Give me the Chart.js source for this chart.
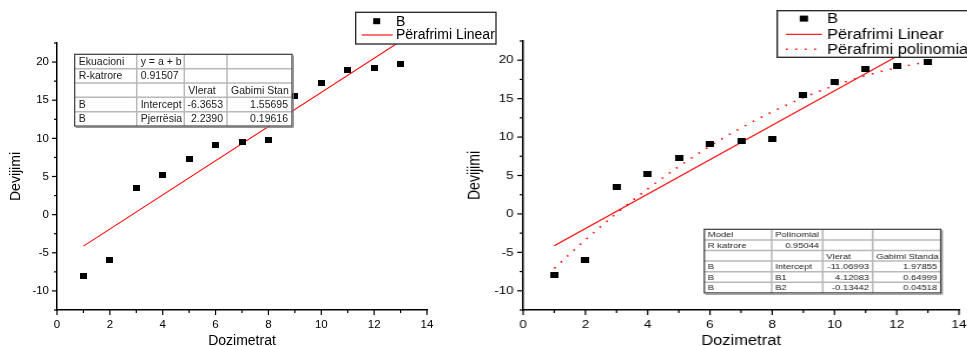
<!DOCTYPE html>
<html>
<head>
<meta charset="utf-8">
<script src="https://cdn.jsdelivr.net/npm/chart.js@4.4.1/dist/chart.umd.min.js"></script>
<style>
html,body{margin:0;padding:0;background:#fff;width:967px;height:346px;overflow:hidden;position:relative;}
#c1{position:absolute;left:0;top:0;}
#c2{position:absolute;left:456px;top:0;transform-origin:0 0;transform:scaleX(1.178);}
</style>
</head>
<body>
<canvas id="c1" width="500" height="346"></canvas>
<canvas id="c2" width="450" height="346"></canvas>
<script>
// ---------- data ----------
const dozimetrat = [1, 2, 3, 4, 5, 6, 7, 8, 9, 10, 11, 12, 13];
const devijimi   = [-8.0, -6.0, 3.5, 5.2, 7.3, 9.1, 9.5, 9.8, 15.5, 17.2, 18.9, 19.2, 19.8];

const linearFitX = [1, 13];
const linearFitY = [-4.13, 22.74];

const polyFitX = [1, 2, 3, 4, 5, 6, 7, 8, 9, 10, 11, 12, 13];
const polyFitY = [-7.08, -3.37, 0.08, 3.26, 6.17, 8.82, 11.19, 13.29, 15.13, 16.70, 17.99, 19.02, 19.78];

const xRange = [0, 14];
const yRange = [-12.5, 22.5];
const xMajorStep = 2, xMinorStep = 1;
const yMajorStep = 5, yMinorStep = 2.5;

const xTitle = 'Dozimetrat';
const yTitle = 'Devijimi';
const seriesLabels = ['B', 'Përafrimi Linear', 'Përafrimi polinomial'];

const linearTable = [
  ['Ekuacioni', 'y = a + b', '', ''],
  ['R-katrore', '0.91507', '', ''],
  ['', '', 'Vlerat', 'Gabimi Stan'],
  ['B', 'Intercept', '-6.3653', '1.55695'],
  ['B', 'Pjerrësia', '2.2390', '0.19616']
];
const polyTable = [
  ['Model', 'Polinomial', '', ''],
  ['R katrore', '0.95044', '', ''],
  ['', '', 'Vlerat', 'Gabimi Standa'],
  ['B', 'Intercept', '-11.06993', '1.97855'],
  ['B', 'B1', '4.12083', '0.64999'],
  ['B', 'B2', '-0.13442', '0.04518']
];

// ---------- styling / helpers ----------
const FONT = '"Liberation Sans", Arial, Helvetica, sans-serif';

function pts(xs, ys) { return xs.map((x, i) => ({ x: x, y: ys[i] })); }
function isMult(v, step) { const r = Math.abs(v / step - Math.round(v / step)); return r < 1e-6; }

function markerCanvas() {
  const c = document.createElement('canvas');
  c.width = 7; c.height = 6;
  const g = c.getContext('2d');
  g.fillStyle = '#000';
  g.fillRect(0, 0, 7, 6);
  return c;
}
const marker = markerCanvas();

function line(ctx, x1, y1, x2, y2) { ctx.beginPath(); ctx.moveTo(x1, y1); ctx.lineTo(x2, y2); ctx.stroke(); }

function drawTable(ctx, t) {
  const cols = t.cols, top = t.top, rowH = t.rowH, rows = t.rows;
  const left = cols[0], right = cols[cols.length - 1], bottom = top + rowH * rows.length;
  ctx.save();
  ctx.fillStyle = '#fff';
  ctx.fillRect(left, top, right - left, bottom - top);
  ctx.strokeStyle = '#b8b8b8';
  ctx.lineWidth = 1.5;
  for (let i = 1; i < rows.length; i++) line(ctx, left, top + i * rowH, right, top + i * rowH);
  for (let j = 1; j < cols.length - 1; j++) line(ctx, cols[j], top, cols[j], bottom);
  ctx.strokeStyle = '#3a3a3a';
  ctx.lineWidth = 1.2;
  ctx.strokeRect(left, top, right - left, bottom - top);
  ctx.strokeStyle = '#808080';
  ctx.lineWidth = 1;
  line(ctx, left + 1, bottom + 1.3, right + 1.3, bottom + 1.3);
  line(ctx, right + 1.3, top + 1, right + 1.3, bottom + 1.3);
  ctx.font = t.font;
  ctx.fillStyle = '#1a1a1a';
  ctx.textBaseline = 'middle';
  rows.forEach((row, i) => row.forEach((txt, j) => {
    if (!txt) return;
    const a = t.align[i][j];
    const cy = top + (i + 0.5) * rowH + 0.5;
    ctx.save();
    ctx.beginPath();
    ctx.rect(cols[j], top + i * rowH, cols[j + 1] - cols[j], rowH);
    ctx.clip();
    if (a === 'r') { ctx.textAlign = 'right'; ctx.fillText(txt, cols[j + 1] - t.pad, cy); }
    else { ctx.textAlign = 'left'; ctx.fillText(txt, cols[j] + t.pad, cy); }
    ctx.restore();
  }));
  ctx.restore();
}

function drawLegend(chart, L) {
  const ctx = chart.ctx;
  ctx.save();
  ctx.fillStyle = '#fff';
  ctx.fillRect(L.x, L.y, L.w, L.h);
  ctx.strokeStyle = '#222';
  ctx.lineWidth = 1.3;
  ctx.strokeRect(L.x, L.y, L.w, L.h);
  ctx.font = '14px ' + FONT;
  ctx.textBaseline = 'middle';
  ctx.textAlign = 'left';
  L.rows.forEach((y, i) => {
    const ds = chart.data.datasets[i];
    if (i === 0) {
      ctx.fillStyle = '#000';
      ctx.fillRect(L.mx - 3.5, y - 3, 7, 6);
    } else {
      ctx.strokeStyle = ds.borderColor;
      ctx.lineWidth = ds.borderWidth;
      ctx.setLineDash(ds.borderDash || []);
      line(ctx, L.l0, y, L.l1, y);
      ctx.setLineDash([]);
    }
    ctx.fillStyle = '#000';
    ctx.fillText(ds.label, L.tx, y + 0.5);
  });
  ctx.restore();
}

const extrasPlugin = {
  id: 'extras',
  afterDatasetsDraw(chart, args, opts) {
    if (opts.table) drawTable(chart.ctx, opts.table);
    if (opts.legend) drawLegend(chart, opts.legend);
  },
  afterDraw(chart) {
    const ctx = chart.ctx, xs = chart.scales.x, ys = chart.scales.y;
    ctx.save();
    ctx.strokeStyle = '#000';
    ctx.lineWidth = 1.2;
    xs.ticks.forEach(t => {
      const px = xs.getPixelForValue(t.value);
      const len = isMult(t.value, xMajorStep) ? 5 : 3;
      line(ctx, px, xs.top, px, xs.top + len);
    });
    ys.ticks.forEach(t => {
      const py = ys.getPixelForValue(t.value);
      const len = isMult(t.value, yMajorStep) ? 5 : 3;
      line(ctx, ys.right - len, py, ys.right, py);
    });
    ctx.restore();
  }
};

function buildConfig(datasets, topPad, rightPad, extras) {
  return {
    type: 'scatter',
    data: { datasets: datasets },
    plugins: [extrasPlugin],
    options: {
      responsive: false,
      animation: false,
      devicePixelRatio: 1,
      events: [],
      layout: { padding: { left: 8, top: topPad, right: rightPad, bottom: 0 } },
      plugins: { legend: { display: false }, tooltip: { enabled: false }, extras: extras },
      scales: {
        x: {
          type: 'linear', min: xRange[0], max: xRange[1],
          afterFit: s => { s.height = 36; },
          ticks: {
            stepSize: xMinorStep, autoSkip: false, maxRotation: 0, padding: 3, color: '#000',
            font: { family: FONT, size: 11.5 },
            callback: v => isMult(v, xMajorStep) ? String(Math.round(v)) : ''
          },
          grid: { display: true, drawOnChartArea: false, drawTicks: true, tickLength: 5, tickColor: 'rgba(0,0,0,0)' },
          border: { display: true, color: '#000', width: 1.5 },
          title: { display: true, text: xTitle, color: '#000', font: { family: FONT, size: 14 }, padding: { top: 0, bottom: -4 } }
        },
        y: {
          type: 'linear', min: yRange[0], max: yRange[1],
          afterFit: s => { s.width = 49; },
          ticks: {
            stepSize: yMinorStep, autoSkip: false, padding: 3, color: '#000',
            font: { family: FONT, size: 11.5 },
            callback: v => isMult(v, yMajorStep) ? String(Math.round(v)) : ''
          },
          grid: { display: true, drawOnChartArea: false, drawTicks: true, tickLength: 5, tickColor: 'rgba(0,0,0,0)' },
          border: { display: true, color: '#000', width: 1.5 },
          title: { display: true, text: yTitle, color: '#000', font: { family: FONT, size: 14 }, padding: { top: 0, bottom: 0 } }
        }
      }
    }
  };
}

function scatterDS() {
  return { label: seriesLabels[0], data: pts(dozimetrat, devijimi), pointStyle: marker, pointRadius: 4, showLine: false };
}
function linearDS() {
  return { label: seriesLabels[1], data: pts(linearFitX, linearFitY), showLine: true, borderColor: '#ff0000', borderWidth: 1.1, pointRadius: 0, fill: false };
}
function polyDS() {
  return { label: seriesLabels[2], data: pts(polyFitX, polyFitY), showLine: true, borderColor: '#ff0000', borderWidth: 1.6,
           borderDash: [1.5, 6.5], cubicInterpolationMode: 'monotone', pointRadius: 0, fill: false };
}

// ---------- left chart: linear fit ----------
new Chart(document.getElementById('c1'), buildConfig(
  [scatterDS(), linearDS()], 43, 73,
  {
    table: {
      rows: linearTable,
      cols: [74.7, 136.7, 184.3, 227, 292], top: 54.3, rowH: 14.35, pad: 4,
      font: '10.5px ' + FONT,
      align: [['l','l','l','l'], ['l','l','l','l'], ['l','l','l','l'], ['l','l','r','r'], ['l','l','r','r']]
    },
    legend: { x: 355.7, y: 12.3, w: 140.3, h: 31.7, rows: [21.2, 35], mx: 376.7, l0: 361.7, l1: 392.7, tx: 396 }
  }
));

// ---------- right chart: linear + polynomial fit ----------
new Chart(document.getElementById('c2'), buildConfig(
  [scatterDS(), linearDS(), polyDS()], 41, 23,
  {
    table: {
      rows: polyTable,
      cols: [210.8, 268.0, 311.3, 353.7, 411.5], top: 229.3, rowH: 10.6, pad: 3,
      font: '8px ' + FONT,
      align: [['l','l','l','l'], ['l','r','l','l'], ['l','l','l','l'], ['l','l','r','r'], ['l','l','r','r'], ['l','l','r','r']]
    },
    legend: { x: 272.7, y: 10.7, w: 200, h: 46.6, rows: [18.6, 34.3, 49.3], mx: 295.3, l0: 280.1, l1: 310.7, tx: 315 }
  }
));
</script>
</body>
</html>
